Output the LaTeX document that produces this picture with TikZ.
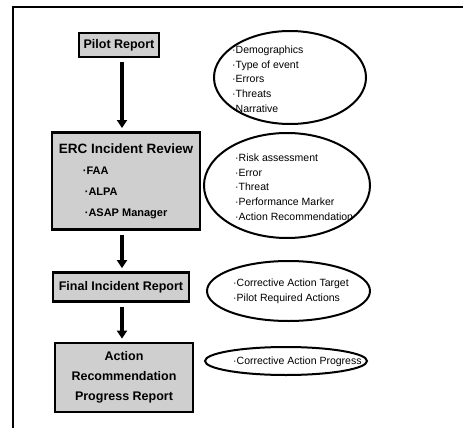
\documentclass[tikz,border=0pt]{standalone}
\usepackage{fontspec}
\setmainfont{Liberation Sans}
\usetikzlibrary{arrows.meta, shapes.geometric}

\begin{document}
\begin{tikzpicture}[
    x=1pt, y=-1pt,
    every node/.style={font=\fontsize{10.5}{14.75}\selectfont},
    stage/.style={rectangle, draw, line width=2.8pt, fill=gray!38, align=center, inner sep=2pt,
                  font=\fontsize{12.5}{20}\selectfont\bfseries},
    note/.style={ellipse, draw, line width=2pt, inner sep=0pt},
    notetext/.style={anchor=west, align=left, inner sep=0pt},
    flow/.style={-{Triangle[length=8pt, width=10pt]}, line width=3.5pt, shorten <=4pt, shorten >=3pt},
]
\useasboundingbox (0,0) rectangle (463,428);
\draw[line width=1.8pt] (463,7) -| (13,428);

% left column
\node[stage, minimum width=80, minimum height=24] (pilot) at (119,45) {Pilot Report};
\node[stage, minimum width=148, minimum height=97, align=left, anchor=north,
      font=\fontsize{11}{21}\selectfont\bfseries] (erc) at (126,131) {%
{\fontsize{13.5}{21}\selectfont ERC Incident Review}\\%
\hspace{24pt}·FAA\\%
\hspace{26pt}·ALPA\\%
\hspace{26pt}·ASAP Manager};
\node[stage, minimum width=136, minimum height=29] (final) at (121,287) {Final Incident Report};
\node[stage, minimum width=138, minimum height=69] (action) at (124,377.5) {Action\\Recommendation\\Progress Report};

\draw[flow] (pilot.south -| 122,0) -- (122,131);
\draw[flow] (erc.south -| 122,0) -- (final.north -| 122,0);
\draw[flow] (final.south -| 122,0) -- (action.north -| 122,0);

% right column
\node[note, minimum width=152, minimum height=93] (demo) at (290,77.5) {};
\node[notetext] (demo-list) at (232,79) {·Demographics\\·Type of event\\·Errors\\·Threats\\·Narrative};

\node[note, minimum width=166, minimum height=105] (review) at (287,185.5) {};
\node[notetext] (review-list) at (235,187) {·Risk assessment\\·Error\\·Threat\\·Performance Marker\\·Action Recommendation};

\node[note, minimum width=163, minimum height=60] (target) at (288.5,291) {};
\node[notetext] (target-list) at (233,291.5) {·Corrective Action Target\\·Pilot Required Actions};

\node[note, minimum width=162, minimum height=28] (progress) at (286,361) {};
\node[notetext] (progress-list) at (233,362) {·Corrective Action Progress};
\end{tikzpicture}
\end{document}
